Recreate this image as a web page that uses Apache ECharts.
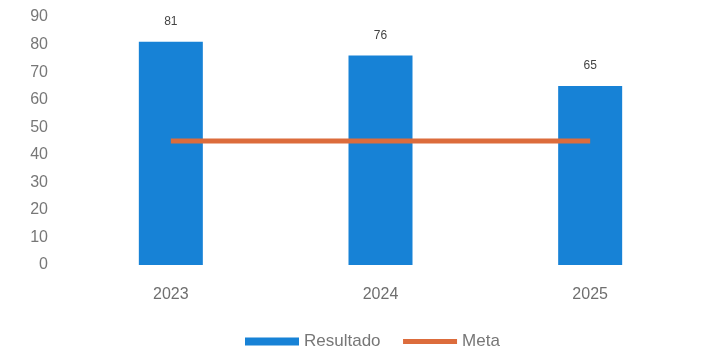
<!DOCTYPE html>
<html>
<head>
<meta charset="utf-8">
<script src="https://cdn.jsdelivr.net/npm/echarts@6/dist/echarts.min.js"></script>
<style>
  html, body { margin: 0; padding: 0; background: #ffffff; }
  #chart { width: 715px; height: 352px; }
</style>
</head>
<body>
<div id="chart"></div>
<script>
// Yearly results against the target
const years = ['2023', '2024', '2025'];
const resultado = [81, 76, 65];
const meta = [45, 45, 45];
const yTicks = [0, 10, 20, 30, 40, 50, 60, 70, 80, 90];

const chart = echarts.init(document.getElementById('chart'));
chart.setOption({
  animation: false,
  backgroundColor: '#ffffff',
  grid: { left: 66, right: 20, top: 17, bottom: 87 },
  legend: {
    top: 328,
    left: 240,
    itemWidth: 54,
    itemHeight: 8,
    itemGap: 20,
    textStyle: { color: '#777777', fontSize: 17, fontFamily: 'Liberation Sans' },
    data: [
      { name: 'Resultado', icon: 'rect' },
      { name: 'Meta', itemStyle: { opacity: 0 }, lineStyle: { width: 5 } }
    ]
  },
  xAxis: {
    type: 'category',
    data: years,
    axisLine: { show: false },
    axisTick: { show: false },
    axisLabel: { color: '#6f6f6f', fontSize: 16, fontFamily: 'Liberation Sans', margin: 22 }
  },
  yAxis: {
    type: 'value',
    min: yTicks[0],
    max: yTicks[yTicks.length - 1],
    interval: 10,
    splitLine: { show: false },
    axisLine: { show: false },
    axisTick: { show: false },
    axisLabel: { color: '#777777', fontSize: 16, fontFamily: 'Liberation Sans', margin: 18 }
  },
  series: [
    {
      name: 'Resultado',
      type: 'bar',
      data: resultado,
      barWidth: 64,
      itemStyle: { color: '#1782d6' },
      label: {
        show: true,
        position: 'top',
        distance: 14,
        color: '#444444',
        fontSize: 12,
        fontFamily: 'Liberation Sans'
      }
    },
    {
      name: 'Meta',
      type: 'line',
      data: meta,
      symbol: 'none',
      lineStyle: { color: '#dc6c3c', width: 5 },
      itemStyle: { color: '#dc6c3c' },
      z: 5
    }
  ]
});
</script>
</body>
</html>
